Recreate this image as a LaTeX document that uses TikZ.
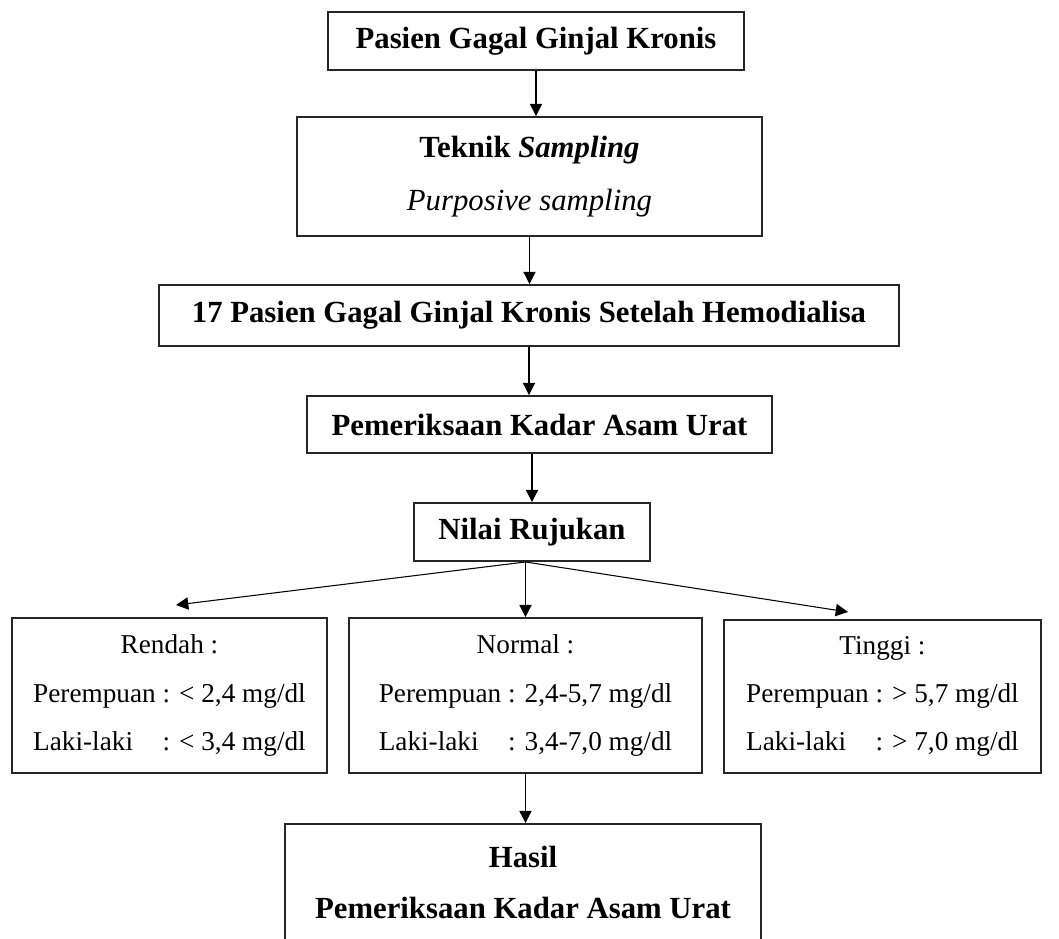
\documentclass[tikz,border=0pt]{standalone}
\usepackage{fontspec}
\setmainfont{Liberation Serif}
\usetikzlibrary{arrows.meta,calc}
\tikzstyle{kotak}=[draw=black!85,line width=1.1pt,align=center,inner sep=0pt]
\tikzstyle{judul}=[kotak,font=\fontsize{17.5}{30}\selectfont\bfseries]
\tikzstyle{rentang}=[kotak,font=\fontsize{15.5}{27.5}\selectfont]
\tikzstyle{panah}=[-{Triangle[length=7pt,width=7pt]},line width=0.6pt]
\newlength\lebarlabel
\newcommand{\jk}[1]{\settowidth{\lebarlabel}{Perempuan}\makebox[\lebarlabel][l]{#1}} % Laki-laki lined up with Perempuan
\begin{document}
\begin{tikzpicture}[x=0.02cm,y=-0.02cm]
	\useasboundingbox (0,0) rectangle (1059,938);
	\clip (0,0) rectangle (1059,938);
	% alur atas
	\node[judul,minimum width=8.32cm,minimum height=1.16cm] (pasien) at (536,41) {Pasien Gagal Ginjal Kronis};
	\node[judul,minimum width=9.3cm,minimum height=2.38cm] (teknik) at (529.5,176.5) {Teknik \textit{Sampling}\\ \mdseries\itshape Purposive sampling};
	\node[judul,minimum width=14.8cm,minimum height=1.22cm] (tujuhbelas) at (529,315.5) {17 Pasien Gagal Ginjal Kronis Setelah Hemodialisa};
	\node[judul,minimum width=9.3cm,minimum height=1.14cm] (periksa) at (539.5,424.5) {Pemeriksaan Kadar Asam Urat};
	\node[judul,minimum width=4.72cm,minimum height=1.16cm] (nilai) at (532,532) {Nilai Rujukan};
	% tiga kategori
	\node[rentang,minimum width=6.3cm,minimum height=3.1cm] (rendah) at (169.5,695.5) {Rendah :\\ Perempuan : < 2,4 mg/dl\\ \jk{Laki-laki} : < 3,4 mg/dl};
	\node[rentang,minimum width=7.06cm,minimum height=3.1cm] (normal) at (525.5,695.5) {Normal :\\ Perempuan : 2,4-5,7 mg/dl\\ \jk{Laki-laki} : 3,4-7,0 mg/dl};
	\node[rentang,minimum width=6.34cm,minimum height=3.06cm] (tinggi) at (882.5,696.5) {Tinggi :\\ Perempuan : > 5,7 mg/dl\\ \jk{Laki-laki} : > 7,0 mg/dl};
	\node[judul,minimum width=9.52cm,minimum height=2.32cm,font=\fontsize{17.5}{29}\selectfont\bfseries] (hasil) at (523,882) {Hasil\\ Pemeriksaan Kadar Asam Urat};
	% panah
	\draw[panah] (pasien.south) -- (pasien.south |- teknik.north);
	\draw[panah] (teknik.south) -- (teknik.south |- tujuhbelas.north);
	\draw[panah] (tujuhbelas.south) -- (tujuhbelas.south |- periksa.north);
	\draw[panah] (periksa.south -| nilai.north) -- (nilai.north);
	\coordinate (cabang) at (nilai.south -| normal.north);
	\coordinate (ujungR) at (176,605); % rendah
	\coordinate (ujungT) at (848,612); % tinggi
	\draw[panah] (cabang) -- (ujungR);
	\draw[panah] (cabang) -- (normal.north);
	\draw[panah] (cabang) -- (ujungT);
	\draw[panah] (normal.south) -- (normal.south |- hasil.north);
\end{tikzpicture}
\end{document}
